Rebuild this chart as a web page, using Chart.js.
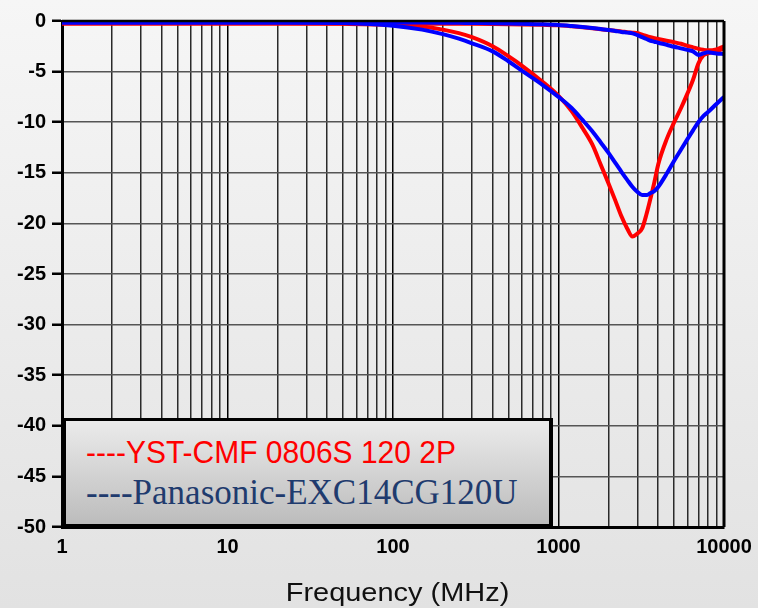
<!DOCTYPE html>
<html><head><meta charset="utf-8">
<script src="https://cdn.jsdelivr.net/npm/chart.js@4/dist/chart.umd.min.js"></script>
<style>
html,body{margin:0;padding:0;}
body{width:758px;height:608px;overflow:hidden;background:linear-gradient(#f6f6f6,#e2e2e2);position:relative;}
#wrap{position:absolute;left:0;top:0;width:758px;height:608px;}
#legend{position:absolute;left:63px;top:418px;width:483px;height:103px;border:3px solid #000;border-right-width:4px;background:linear-gradient(#ebebeb,#bcbcbc);}
#legend span{position:absolute;left:20px;white-space:nowrap;transform-origin:0 50%;}
#l1{top:15px;font:32px/32px 'Liberation Sans',Arial,sans-serif;color:#ff0000;transform:scaleX(0.937);}
#l2{top:54px;font:35px/35px 'Liberation Serif','Times New Roman',serif;color:#1f3b6e;}
</style></head>
<body>
<div id="wrap"><canvas id="c" width="758" height="608"></canvas></div>
<div id="legend"><span id="l1">----YST-CMF 0806S 120 2P</span><span id="l2">----Panasonic-EXC14CG120U</span></div>
<script>
const freqMHz = [1,2,5,10,20,50,100,150,200,250,300,400,500,600,800,1000,1200,1400,1600,1800,2000,2200,2400,2600,2800,3000,3200,3400,3600,3800,4000,4500,5000,5500,6000,6500,7000,7500,8000,9000,10000];
const ystDeep = [-0.25,-0.25,-0.25,-0.25,-0.25,-0.28,-0.38,-0.55,-0.85,-1.2,-1.6,-2.5,-3.5,-4.4,-6.0,-7.4,-8.9,-10.6,-12.2,-14.2,-16.0,-17.7,-19.3,-20.5,-21.3,-21.0,-20.5,-19.1,-17.5,-15.9,-14.2,-11.7,-10.0,-8.6,-7.2,-5.8,-4.2,-3.4,-3.2,-3.0,-2.7];
const ystShallow = [-0.25,-0.25,-0.25,-0.25,-0.25,-0.25,-0.25,-0.26,-0.27,-0.27,-0.28,-0.3,-0.32,-0.34,-0.38,-0.42,-0.52,-0.62,-0.72,-0.82,-0.9,-0.97,-1.03,-1.1,-1.15,-1.2,-1.35,-1.48,-1.6,-1.7,-1.78,-1.95,-2.1,-2.25,-2.45,-2.6,-2.75,-2.85,-2.9,-2.8,-2.5];
const panaDeep = [-0.15,-0.15,-0.15,-0.15,-0.15,-0.2,-0.46,-0.85,-1.3,-1.75,-2.2,-3.0,-4.0,-4.9,-6.3,-7.5,-8.6,-9.8,-10.9,-12.0,-13.0,-14.0,-14.9,-15.7,-16.4,-16.9,-17.2,-17.2,-17.0,-16.8,-16.4,-15.1,-13.8,-12.7,-11.7,-10.8,-10.0,-9.4,-9.0,-8.2,-7.5];
const panaShallow = [-0.15,-0.15,-0.15,-0.15,-0.15,-0.15,-0.15,-0.16,-0.17,-0.18,-0.2,-0.22,-0.25,-0.28,-0.33,-0.4,-0.5,-0.6,-0.7,-0.8,-0.88,-0.98,-1.08,-1.15,-1.22,-1.4,-1.6,-1.78,-1.95,-2.05,-2.15,-2.35,-2.55,-2.7,-2.85,-3.0,-3.35,-3.2,-3.1,-3.2,-3.25];
const xTickLabels = ['1','10','100','1000','10000'];
const yTickLabels = ['0','-5','-10','-15','-20','-25','-30','-35','-40','-45','-50'];
const xAxisTitle = 'Frequency (MHz)';

const FONT = "'Liberation Sans', Arial, sans-serif";
const pts = arr => freqMHz.map((f,i)=>({x:f,y:arr[i]}));
const gridFreqs = [];
for (let d=1; d<=1000; d*=10) for (let k=1;k<10;k++) gridFreqs.push(d*k);
gridFreqs.push(10000);

const frame = {
  id:'frame',
  afterDatasetsDraw(chart){
    const {ctx, chartArea:a} = chart;
    ctx.save();
    ctx.strokeStyle='#000';
    ctx.lineWidth=2.5;
    ctx.beginPath(); ctx.moveTo(a.left,a.top); ctx.lineTo(a.right,a.top); ctx.stroke();
    ctx.lineWidth=3;
    ctx.beginPath(); ctx.moveTo(a.right,a.top); ctx.lineTo(a.right,a.bottom); ctx.stroke();
    ctx.restore();
  },
  afterDraw(chart){
    const ctx = chart.ctx;
    ctx.save();
    ctx.font = '25.5px ' + FONT;
    ctx.fillStyle = '#111';
    ctx.textAlign = 'center';
    ctx.textBaseline = 'alphabetic';
    ctx.translate(397.5, 601);
    ctx.scale(1.135, 1);
    ctx.fillText(xAxisTitle, 0, 0);
    ctx.restore();
  }
};

const ds = (label, arr, color) => ({
  label, data: pts(arr), borderColor: color, backgroundColor: color,
  borderWidth: 4, pointRadius: 0, fill:false, cubicInterpolationMode:'monotone'
});

new Chart(document.getElementById('c'), {
  type:'line',
  data:{ datasets:[
    ds('Panasonic shallow', panaShallow, '#0000ff'),
    ds('Panasonic deep', panaDeep, '#0000ff'),
    ds('YST shallow', ystShallow, '#ff0000'),
    ds('YST deep', ystDeep, '#ff0000')
  ]},
  options:{
    responsive:false, animation:false, devicePixelRatio:1,
    layout:{padding:{top:21,right:34,left:0,bottom:0}},
    plugins:{legend:{display:false}, tooltip:{enabled:false}},
    scales:{
      x:{
        type:'logarithmic', min:1, max:10000,
        afterBuildTicks: s => { s.ticks = gridFreqs.map(v=>({value:v})); },
        afterFit: s => { s.height = 81; s.paddingRight = 0; s.paddingLeft = 0; },
        ticks:{autoSkip:false, maxRotation:0, minRotation:0, color:'#000', padding:8,
          font:{family:FONT, size:20, weight:'bold'},
          callback:(v)=>{ const s=String(v); return xTickLabels.includes(s)? s : ''; }},
        grid:{ color: c => { const v=c.tick && c.tick.value; return (v && Math.abs(Math.log10(v)%1)<1e-9) ? '#000' : '#2a2a2a'; },
          lineWidth:1.5, drawTicks:false },
        border:{color:'#000', width:3}
      },
      y:{
        min:-50, max:0,
        afterFit: s => { s.width = 62; s.paddingTop = 0; s.paddingBottom = 0; },
        ticks:{stepSize:5, color:'#000', padding:6, font:{family:FONT, size:20, weight:'bold'},
          callback:(v)=>{ const s=String(v); return yTickLabels.includes(s)? s : ''; }},
        grid:{color:'#555', lineWidth:1.5, tickColor:'#000', tickLength:10, tickWidth:2.5},
        border:{color:'#000', width:3}
      }
    }
  },
  plugins:[frame]
});
</script>
</body></html>
